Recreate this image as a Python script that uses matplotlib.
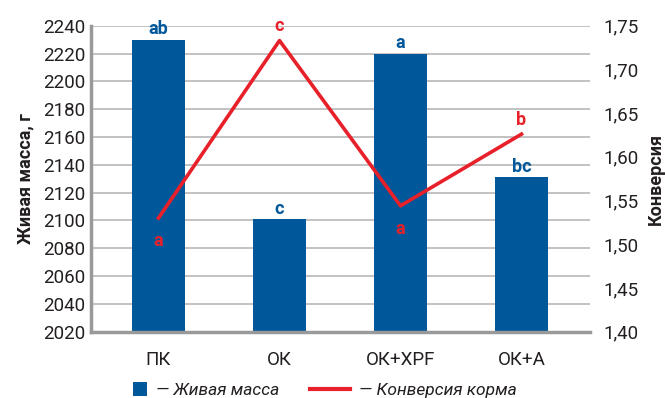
import matplotlib
matplotlib.use("Agg")
import matplotlib.pyplot as plt
from matplotlib.patches import Patch
from matplotlib.lines import Line2D

plt.rcParams['font.family'] = ['Roboto', 'DejaVu Sans']

groups = ['ПК', 'ОК', 'ОК+XPF', 'ОК+А']
live_mass = [2230, 2101, 2220, 2131]
conversion = [1.530, 1.733, 1.544, 1.626]
mass_letters = ['ab', 'c', 'a', 'bc']
conv_letters = ['a', 'c', 'a', 'b']
conv_above = [False, True, False, True]

mass_ticks = list(range(2020, 2241, 20))
conv_ticks = [1.40, 1.45, 1.50, 1.55, 1.60, 1.65, 1.70, 1.75]

BLUE = '#00589b'
RED = '#e8202a'
TXT = '#231f20'
GRID = '#bdbdbd'

fig = plt.figure(figsize=(6.65, 3.98), dpi=100)
ax = fig.add_axes([0.1368, 0.1666, 0.7504, 0.7688])
ax2 = ax.twinx()

x = list(range(len(groups)))
ax.bar(x, live_mass, width=0.44, color=BLUE, zorder=2)
ax.set_ylim(2020, 2240)
ax.set_xlim(-0.558, 3.566)
ax.set_yticks(mass_ticks)
ax.set_yticklabels([str(t) for t in mass_ticks])
ax.set_xticks(x)
ax.set_xticklabels(groups)
ax.grid(axis='y', color=GRID, linewidth=1.3, zorder=0)
ax.set_axisbelow(True)
ax.tick_params(axis='both', length=0, labelsize=13.5, colors=TXT)
ax.tick_params(axis='x', pad=14)
ax.tick_params(axis='y', pad=4)
ax.set_ylabel('Живая масса, г', fontsize=13, fontweight='bold', color=TXT, labelpad=6)

for s in ['top', 'right']:
    ax.spines[s].set_visible(False)
for s in ['left', 'bottom']:
    ax.spines[s].set_color('#999999')
    ax.spines[s].set_linewidth(2.5)

for xi, v, lab in zip(x, live_mass, mass_letters):
    ax.annotate(lab, (xi, v), xytext=(0, 1), textcoords='offset points',
                ha='center', va='bottom', color=BLUE, fontsize=13, fontweight='bold')

ax2.plot(x, conversion, color=RED, linewidth=2.6, zorder=3)
ax2.set_ylim(1.40, 1.75)
ax2.set_yticks(conv_ticks)
ax2.set_yticklabels([f'{t:.2f}'.replace('.', ',') for t in conv_ticks])
ax2.tick_params(axis='y', length=0, labelsize=13.5, colors=TXT, pad=10)
ax2.set_ylabel('Конверсия', fontsize=13, fontweight='bold', color=TXT)
ax2.yaxis.set_label_coords(1.113, 0.5)
for s in ax2.spines.values():
    s.set_visible(False)

for xi, v, lab, up in zip(x, conversion, conv_letters, conv_above):
    off = 4 if up else -10
    ax2.annotate(lab, (xi, v), xytext=(0, off), textcoords='offset points',
                 ha='center', va='bottom' if up else 'top', color=RED,
                 fontsize=13, fontweight='bold')

leg_kw = dict(loc='lower left', frameon=False, borderaxespad=0, borderpad=0,
              prop={'style': 'italic', 'size': 12.5}, handletextpad=0.5,
              labelcolor=TXT)
leg1 = fig.legend([Patch(facecolor=BLUE, edgecolor='none')], ['— Живая масса'],
                  bbox_to_anchor=(0.2, 0.0), handlelength=0.8, handleheight=0.8,
                  **leg_kw)
leg2 = fig.legend([Line2D([0], [0], color=RED, linewidth=3)], ['— Конверсия корма'],
                  bbox_to_anchor=(0.466, 0.0), handlelength=2.3, **leg_kw)

fig.savefig('out.png', dpi=100)
